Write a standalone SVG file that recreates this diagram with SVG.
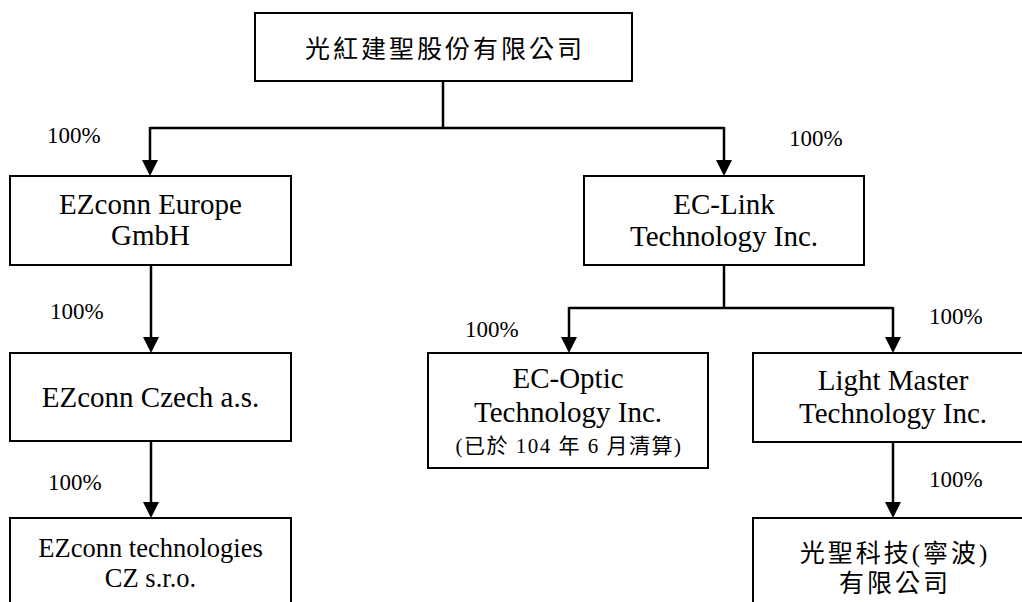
<svg xmlns="http://www.w3.org/2000/svg" width="1022" height="602" viewBox="0 0 1022 602">
<style>
.box{fill:#fff;stroke:#000;stroke-width:2}
.t{font-family:'Liberation Serif','Times New Roman',Times,'DejaVu Serif','Noto Sans CJK TC',serif;font-size:29px;fill:#000;text-anchor:middle}
.t2{font-family:'Liberation Serif','Times New Roman',Times,'DejaVu Serif',serif;font-size:26.5px;fill:#000;text-anchor:middle}
.cjk{font-family:'Liberation Serif','Times New Roman',Times,'DejaVu Serif','Noto Sans CJK TC',serif;font-size:25px;fill:#000;text-anchor:middle;letter-spacing:3px}
.small{font-family:'Liberation Serif','Times New Roman',Times,'DejaVu Serif','Noto Sans CJK TC',serif;font-size:21px;fill:#000;text-anchor:middle;letter-spacing:1.5px}
.pct{font-family:'Liberation Serif','Times New Roman',Times,'DejaVu Serif',serif;font-size:23px;fill:#000}
.c{fill:none;stroke:#000;stroke-width:2.5}
</style>
<defs>
<marker id="ah" viewBox="0 0 16 16" refX="8" refY="8" markerWidth="16" markerHeight="16" markerUnits="userSpaceOnUse" orient="auto">
<path d="M0,0 L16,8 L0,16 z" fill="#000"/>
</marker>
</defs>
<rect width="1022" height="602" fill="#fff"/>
<g id="connectors">
<path class="c" d="M443,81 V128"/>
<path class="c" d="M150,128 H724"/>
<path class="c" d="M150,127 V168" marker-end="url(#ah)"/>
<path class="c" d="M724,127 V168" marker-end="url(#ah)"/>
<path class="c" d="M151,265 V345" marker-end="url(#ah)"/>
<path class="c" d="M151,441 V510" marker-end="url(#ah)"/>
<path class="c" d="M724,265 V308"/>
<path class="c" d="M569,308 H893"/>
<path class="c" d="M569,307 V345" marker-end="url(#ah)"/>
<path class="c" d="M893,307 V345" marker-end="url(#ah)"/>
<path class="c" d="M893,442 V510" marker-end="url(#ah)"/>
</g>
<g id="labels">
<text class="pct" x="47" y="143">100%</text>
<text class="pct" x="789" y="146">100%</text>
<text class="pct" x="50" y="319">100%</text>
<text class="pct" x="48" y="490">100%</text>
<text class="pct" x="465" y="337">100%</text>
<text class="pct" x="929" y="324">100%</text>
<text class="pct" x="929" y="487">100%</text>
</g>
<g id="parent">
<rect class="box" x="255" y="13" width="377" height="68"/>
<text class="cjk" x="445" y="58">光紅建聖股份有限公司</text>
</g>
<g id="ezconn-europe">
<rect class="box" x="10" y="176" width="281" height="89"/>
<text class="t" x="150.5" y="214">EZconn Europe</text>
<text class="t" x="150.5" y="245">GmbH</text>
</g>
<g id="ec-link">
<rect class="box" x="584" y="176" width="280" height="89"/>
<text class="t" x="724" y="214">EC-Link</text>
<text class="t" x="724" y="246">Technology Inc.</text>
</g>
<g id="ezconn-czech">
<rect class="box" x="10" y="353" width="281" height="88"/>
<text class="t" x="150.5" y="407">EZconn Czech a.s.</text>
</g>
<g id="ec-optic">
<rect class="box" x="428" y="353" width="280" height="115"/>
<text class="t" x="568" y="388">EC-Optic</text>
<text class="t" x="568" y="422">Technology Inc.</text>
<text class="small" x="569" y="453">(已於 104 年 6 月清算)</text>
</g>
<g id="light-master">
<rect class="box" x="753" y="353" width="280" height="89"/>
<text class="t" x="893" y="390">Light Master</text>
<text class="t" x="893" y="423">Technology Inc.</text>
</g>
<g id="ezconn-cz">
<rect class="box" x="10" y="518" width="281" height="100"/>
<text class="t2" x="150.5" y="557">EZconn technologies</text>
<text class="t2" x="150.5" y="587">CZ s.r.o.</text>
</g>
<g id="guangsheng">
<rect class="box" x="753" y="518" width="280" height="100"/>
<text class="cjk" x="895" y="562">光聖科技(寧波)</text>
<text class="cjk" x="895" y="592">有限公司</text>
</g>
</svg>
